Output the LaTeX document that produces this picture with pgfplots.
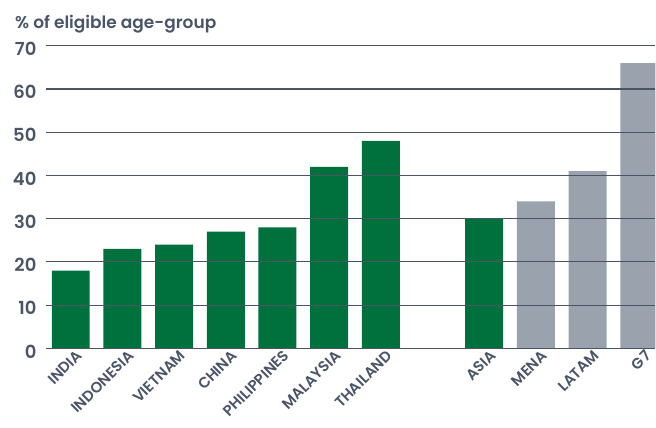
\documentclass[border=0pt]{standalone}
\usepackage{pgfplots}
\pgfplotsset{compat=1.18}
\usepackage{fontspec}
\IfFontExistsTF{Poppins SemiBold}{\setmainfont{Poppins SemiBold}}{\IfFontExistsTF{Poppins Medium}{\setmainfont{Poppins Medium}}{\setmainfont{Poppins}}}
\definecolor{grn}{HTML}{00703C}
\definecolor{gry}{HTML}{9AA3AD}
\definecolor{gridc}{HTML}{4A5465}
\definecolor{txt}{HTML}{4A5568}
\begin{document}
\begin{tikzpicture}
\begin{axis}[
  scale only axis, width=610pt, height=303pt,
  xmin=-0.48, xmax=11.31, ymin=0, ymax=70,
  ytick={0,10,...,70},
  xtick={0,1,2,3,4,5,6,8,9,10,11},
  xticklabels={INDIA,INDONESIA,VIETNAM,CHINA,PHILIPPINES,MALAYSIA,THAILAND,ASIA,MENA,LATAM,G7},
  xticklabel style={rotate=45, anchor=north east, font=\fontsize{15}{17}\selectfont, text=txt, inner sep=1pt, xshift=4pt, yshift=-3pt},
  yticklabel style={font=\fontsize{18}{19}\selectfont, text=txt, anchor=east, xshift=-6pt, yshift=-3pt},
  /pgf/number format/assume math mode=true,
  ymajorgrids, major grid style={gridc, line width=1.1pt},
  axis x line*=bottom, axis y line*=left,
  y axis line style={draw=none},
  x axis line style={gridc, line width=1.5pt, -},
  major tick length=0pt,
  axis on top,
  ybar, bar width=38pt, bar shift=0pt,
  clip=true,
]
\addplot[fill=grn, draw=none] coordinates {(0,18) (1,23) (2,24) (3,27) (4,28) (5,42) (6,48) (8,30)};
\addplot[fill=gry, draw=none] coordinates {(9,34) (10,41) (11,66)};
\end{axis}
\node[anchor=base west, text=txt, font=\fontsize{17}{19}\selectfont, inner sep=0pt] at (-31pt,320pt) {\% of eligible age-group};
\useasboundingbox (-46pt,-79.2pt) rectangle (610pt,348.8pt);
\end{tikzpicture}
\end{document}
